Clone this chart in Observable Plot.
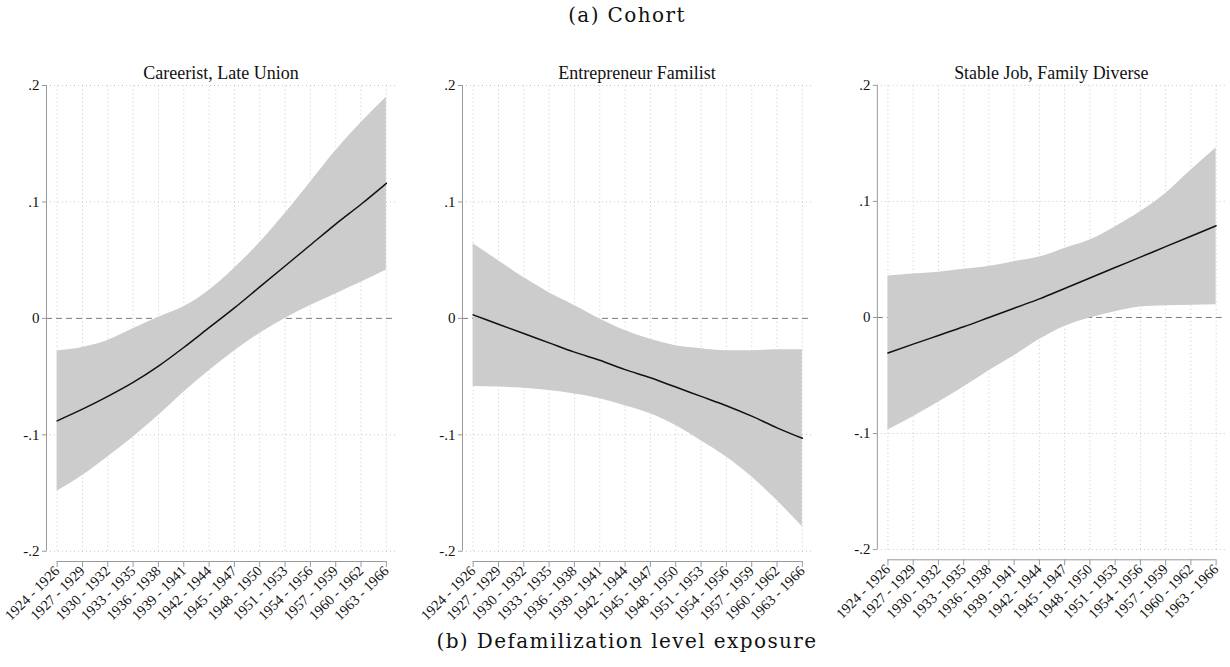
<!DOCTYPE html>
<html>
<head>
<meta charset="utf-8">
<script src="https://cdn.jsdelivr.net/npm/d3@7"></script>
<script src="https://cdn.jsdelivr.net/npm/@observablehq/plot@0.6"></script>
<style>
  html, body { margin: 0; padding: 0; background: #fff; }
  #wrap { position: relative; width: 1230px; height: 667px; overflow: hidden; font-family: "Liberation Serif", serif; }
  .cap { position: absolute; left: 12px; width: 1230px; text-align: center; font-family: "DejaVu Serif", serif; font-size: 20px; letter-spacing: 1.4px; color: #111; line-height: 24px; }
  .panel { position: absolute; top: 40px; }
  .panel svg { font-family: "Liberation Serif", serif !important; }
</style>
</head>
<body>
<div id="wrap">
  <div class="cap" style="top:3px;">(a) Cohort</div>
  <div class="cap" style="top:629px;">(b) Defamilization level exposure</div>
</div>
<script>
// Data
const cohorts = ["1924 - 1926","1927 - 1929","1930 - 1932","1933 - 1935","1936 - 1938","1939 - 1941","1942 - 1944","1945 - 1947","1948 - 1950","1951 - 1953","1954 - 1956","1957 - 1959","1960 - 1962","1963 - 1966"];
const panelTitles = ["Careerist, Late Union", "Entrepreneur Familist", "Stable Job, Family Diverse"];
const yTicks = [-0.2, -0.1, 0, 0.1, 0.2];

const careeristEst = [-0.088,-0.078,-0.067,-0.055,-0.041,-0.025,-0.008,0.009,0.027,0.045,0.063,0.081,0.098,0.116];
const careeristLo  = [-0.1485,-0.135,-0.119,-0.102,-0.0835,-0.0635,-0.045,-0.028,-0.013,0.000,0.011,0.021,0.031,0.0415];
const careeristHi  = [-0.028,-0.025,-0.019,-0.009,0.001,0.010,0.024,0.043,0.065,0.090,0.117,0.144,0.168,0.190];

const entrepEst = [0.003,-0.005,-0.013,-0.021,-0.029,-0.036,-0.044,-0.051,-0.059,-0.067,-0.075,-0.084,-0.094,-0.103];
const entrepLo  = [-0.0586,-0.059,-0.060,-0.062,-0.065,-0.069,-0.075,-0.082,-0.092,-0.105,-0.119,-0.136,-0.1565,-0.179];
const entrepHi  = [0.064,0.0495,0.035,0.022,0.011,-0.0005,-0.0105,-0.018,-0.0235,-0.026,-0.0277,-0.0277,-0.027,-0.027];

const stableEst = [-0.0306,-0.023,-0.0155,-0.008,0.000,0.008,0.016,0.025,0.034,0.043,0.052,0.061,0.070,0.079];
const stableLo  = [-0.097,-0.0855,-0.073,-0.060,-0.046,-0.033,-0.019,-0.0077,-0.0005,0.005,0.009,0.010,0.0105,0.011];
const stableHi  = [0.0358,0.0375,0.039,0.0415,0.044,0.048,0.052,0.0595,0.0667,0.078,0.091,0.1068,0.1268,0.146];

const panels = [
  {title: panelTitles[0], est: careeristEst, lo: careeristLo, hi: careeristHi, left: 0},
  {title: panelTitles[1], est: entrepEst, lo: entrepLo, hi: entrepHi, left: 415.7},
  {title: panelTitles[2], est: stableEst, lo: stableLo, hi: stableHi, left: 831.3}
];

const idx = cohorts.map((_, i) => i);
const xDom = [-0.42, 13.36];
const yBottom = -0.2088;
const fmtY = d => d === 0 ? "0" : String(+d.toFixed(1)).replace("0.", ".");
const serif = "'Liberation Serif', serif";

const wrap = document.getElementById("wrap");
for (const p of panels) {
  const data = idx.map(i => ({i, label: cohorts[i], est: p.est[i], lo: p.lo[i], hi: p.hi[i]}));
  const chart = Plot.plot({
    width: 400,
    height: 590,
    marginLeft: 46,
    marginRight: 5,
    marginTop: 45,
    marginBottom: 69,
    style: {fontFamily: serif, background: "white", overflow: "visible"},
    x: {domain: xDom, axis: null},
    y: {domain: [yBottom, 0.2], axis: null},
    marks: [
      // dotted grid
      Plot.ruleY([-0.2, -0.1, 0.1, 0.2], {stroke: "#c8c8c8", strokeWidth: 1, strokeDasharray: "1,3"}),
      Plot.ruleX(idx, {y1: -0.2, y2: 0.201, stroke: "#c8c8c8", strokeWidth: 1, strokeDasharray: "1,3"}),
      // zero reference line
      Plot.ruleY([0], {stroke: "#7a7a7a", strokeWidth: 1, strokeDasharray: "6,4"}),
      // confidence band
      Plot.areaY(data, {x: "i", y1: "lo", y2: "hi", fill: "#cccccc", curve: "monotone-x"}),
      // estimate
      Plot.line(data, {x: "i", y: "est", stroke: "#111", strokeWidth: 1.5, curve: "monotone-x"}),
      // y axis
      Plot.ruleX([xDom[0]], {y1: -0.2, y2: 0.2, stroke: "#999", strokeWidth: 1}),
      Plot.axisY({ticks: yTicks, tickFormat: fmtY, tickSize: 4, tickPadding: 3, stroke: "#999", fill: "#111", fontSize: 15, fontFamily: serif, anchor: "left", label: null}),
      // x axis
      Plot.ruleY([yBottom], {x1: 0, x2: 13, stroke: "#999", strokeWidth: 1}),
      Plot.axisX({ticks: idx, tickFormat: i => cohorts[i], tickRotate: -45, tickSize: 6, tickPadding: 1, stroke: "#999", fill: "#111", fontSize: 14.5, fontFamily: serif, anchor: "bottom", label: null}),
      // panel title
      Plot.text([p.title], {frameAnchor: "top", dy: -19, fontSize: 18, fontFamily: serif, fill: "#111"})
    ]
  });
  const holder = document.createElement("div");
  holder.className = "panel";
  holder.style.left = p.left + "px";
  holder.appendChild(chart);
  wrap.appendChild(holder);
}
</script>
</body>
</html>
